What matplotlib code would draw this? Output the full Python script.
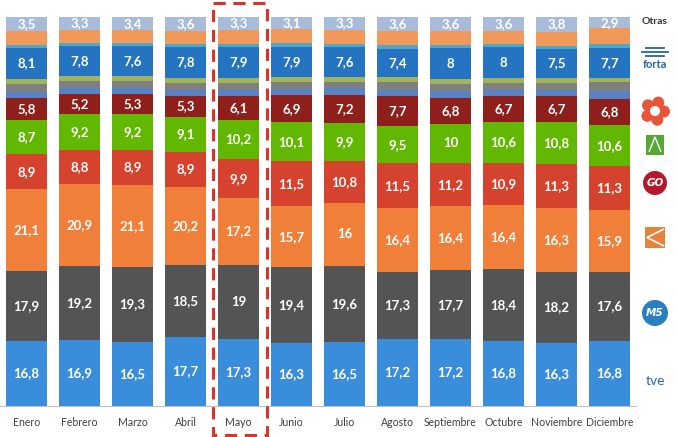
import numpy as np
import matplotlib
matplotlib.use("Agg")
import matplotlib.pyplot as plt
from matplotlib.patches import Rectangle, Circle, Polygon

months = ["Enero", "Febrero", "Marzo", "Abril", "Mayo", "Junio", "Julio",
          "Agosto", "Septiembre", "Octubre", "Noviembre", "Diciembre"]

# cuota de pantalla (%) por cadena, de abajo a arriba
tve = [16.8, 16.9, 16.5, 17.7, 17.3, 16.3, 16.5, 17.2, 17.2, 16.8, 16.3, 16.8]
telecinco = [17.9, 19.2, 19.3, 18.5, 19, 19.4, 19.6, 17.3, 17.7, 18.4, 18.2, 17.6]
antena3 = [21.1, 20.9, 21.1, 20.2, 17.2, 15.7, 16, 16.4, 16.4, 16.4, 16.3, 15.9]
cuatro = [8.9, 8.8, 8.9, 8.9, 9.9, 11.5, 10.8, 11.5, 11.2, 10.9, 11.3, 11.3]
lasexta = [8.7, 9.2, 9.2, 9.1, 10.2, 10.1, 9.9, 9.5, 10, 10.6, 10.8, 10.6]
mediaset_tem = [5.8, 5.2, 5.3, 5.3, 6.1, 6.9, 7.2, 7.7, 6.8, 6.7, 6.7, 6.8]
otros_a = [1.6, 1.5, 1.5, 1.6, 1.6, 1.7, 1.7, 1.7, 1.6, 1.5, 1.6, 2.1]
otros_b = [1.9, 1.8, 1.8, 1.8, 1.8, 1.6, 1.6, 1.9, 1.8, 1.7, 1.8, 2.1]
otros_c = [1.3, 1.3, 1.3, 1.3, 1.3, 1.3, 1.3, 1.3, 1.3, 1.3, 1.3, 1.1]
forta = [8.1, 7.8, 7.6, 7.8, 7.9, 7.9, 7.6, 7.4, 8, 8, 7.5, 7.7]
otros_d = [0.8, 0.8, 0.8, 0.8, 0.8, 0.8, 0.8, 0.8, 0.8, 0.8, 0.8, 1.1]
otros_e = [3.6, 3.3, 3.3, 3.4, 3.6, 3.7, 3.7, 3.7, 3.6, 3.3, 3.6, 4.0]
otras = [3.5, 3.3, 3.4, 3.6, 3.3, 3.1, 3.3, 3.6, 3.6, 3.6, 3.8, 2.9]

# (valores, color, etiquetar?)
series = [
    (tve, "#3a8ddb", True),
    (telecinco, "#545454", True),
    (antena3, "#f07f3a", True),
    (cuatro, "#d5432e", True),
    (lasexta, "#62b800", True),
    (mediaset_tem, "#8e1f1a", True),
    (otros_a, "#5882c4", False),
    (otros_b, "#808080", False),
    (otros_c, "#a0b45c", False),
    (forta, "#2574c2", True),
    (otros_d, "#4fa8c6", False),
    (otros_e, "#f0995a", False),
    (otras, "#a8bcd9", True),
]

def fmt(v):
    return ("%g" % v).replace(".", ",")

W, H = 677, 437
fig = plt.figure(figsize=(W / 100, H / 100), dpi=100)
ax = fig.add_axes([0, (H - 406) / H, 636 / W, (406 - 17) / H])

x = np.arange(len(months))
bottom = np.zeros(len(months))
for vals, color, lab in series:
    vals = np.array(vals, dtype=float)
    ax.bar(x, vals, width=0.79, bottom=bottom, color=color, edgecolor="none")
    if lab:
        for xi, b, v in zip(x, bottom, vals):
            ax.text(xi, b + v / 2, fmt(v), ha="center", va="center",
                    color="white", fontsize=9.5, fontweight="bold", family="Lato")
    bottom += vals

ax.set_xlim(-0.5, 11.5)
ax.set_ylim(0, 100)
ax.set_xticks(x)
ax.set_xticklabels(months, fontsize=7.6, color="#404040", family="Lato")
ax.tick_params(axis="x", length=0, pad=8)
ax.set_yticks([])
for s in ["top", "left", "right"]:
    ax.spines[s].set_visible(False)
ax.spines["bottom"].set_color("#bfbfbf")

# capa en pixeles para el recuadro y los logos
ov = fig.add_axes([0, 0, 1, 1], facecolor="none")
ov.set_xlim(0, W)
ov.set_ylim(H, 0)
ov.axis("off")

# recuadro discontinuo en Mayo
ov.add_patch(Rectangle((213, 3), 54, 432, fill=False, edgecolor="#d9342b",
                       lw=2.2, linestyle=(0, (4, 2.5))))

lx = 655
ov.text(lx, 22, "Otras", ha="center", va="center", fontsize=7.5, color="#333333",
        family="Lato", fontweight="bold")
# forta
for dy, half in [(48, 9), (52, 13), (56, 9)]:
    ov.plot([lx - half, lx + half], [dy, dy], color="#2563b0", lw=1.3)
ov.text(lx, 65, "forta", ha="center", va="center", fontsize=8, color="#2563b0",
        fontweight="bold", family="Lato")
# flor naranja
for ang in np.linspace(0, 2 * np.pi, 5, endpoint=False):
    ov.add_patch(Circle((lx + 9 * np.cos(ang - 1.2), 111 + 9 * np.sin(ang - 1.2)), 6,
                        color="#e8553a", lw=0))
ov.add_patch(Circle((lx, 111), 5, color="white", lw=0))
# triangulo verde
ov.add_patch(Rectangle((lx - 9, 135), 18, 20, color="#56a832", lw=0))
ov.add_patch(Polygon([(lx - 6, 152), (lx, 137), (lx + 6, 152)], closed=False,
                     fill=False, edgecolor="white", lw=1.0))
# GO
ov.add_patch(Circle((lx, 183), 12, color="#b5172b", lw=0))
ov.text(lx, 183, "GO", ha="center", va="center", fontsize=7.5, color="white",
        fontweight="bold", style="italic")
# chevron naranja
ov.add_patch(Rectangle((lx - 10, 227), 20, 21, color="#e8823a", lw=0))
ov.add_patch(Polygon([(lx + 9, 229), (lx - 8, 237.5), (lx + 9, 246)], closed=False,
                     fill=False, edgecolor="white", lw=1.2))
# M5
ov.add_patch(Circle((lx, 313), 13, color="#2a7fc0", lw=0))
ov.text(lx, 313, "M5", ha="center", va="center", fontsize=7.5, color="white",
        fontweight="bold", style="italic")
# tve
ov.text(lx, 381, "tve", ha="center", va="center", fontsize=10, color="#2464b8", family="Lato")

fig.savefig("out.png", dpi=100)
